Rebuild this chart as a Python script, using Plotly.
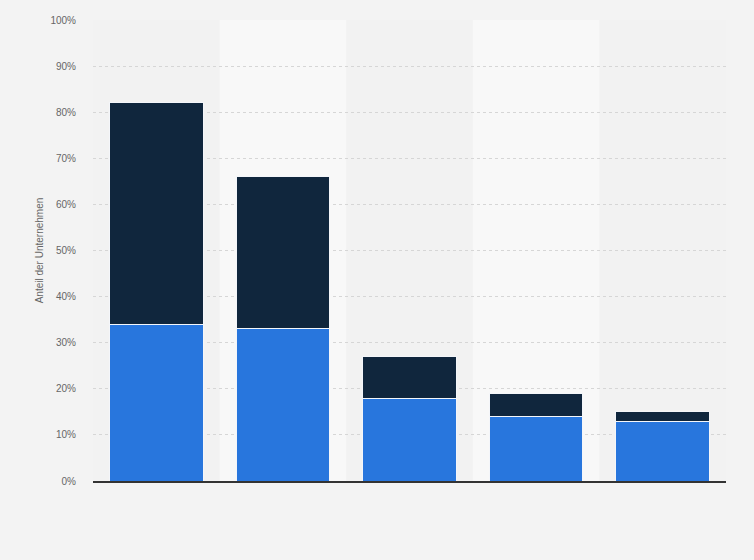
import plotly.graph_objects as go

categories = ["Kategorie 1", "Kategorie 2", "Kategorie 3", "Kategorie 4", "Kategorie 5"]
series_a = [34, 33, 18, 14, 13]
series_b = [48, 33, 9, 5, 2]
tick_vals = [0, 10, 20, 30, 40, 50, 60, 70, 80, 90, 100]
tick_text = [f"{v}%" for v in tick_vals]

fig = go.Figure()
fig.add_trace(go.Bar(x=categories, y=series_a, marker=dict(color="#2876dd", line=dict(color="#f4f6fa", width=1)), name="A"))
fig.add_trace(go.Bar(x=categories, y=series_b, marker=dict(color="#10263d", line=dict(color="#f4f6fa", width=1)), name="B"))

shapes = []
for i, c in enumerate(categories):
    if i % 2 == 1:
        shapes.append(dict(type="rect", xref="x", yref="paper", x0=i - 0.5, x1=i + 0.5, y0=0, y1=1,
                           fillcolor="#f8f8f8", line=dict(width=0), layer="below"))

fig.update_layout(
    barmode="stack",
    bargap=0.26,
    width=754, height=560,
    margin=dict(l=93, r=28, t=20, b=79),
    paper_bgcolor="#f3f3f3",
    plot_bgcolor="#f2f2f2",
    showlegend=False,
    shapes=shapes,
    font=dict(family="Arial, Liberation Sans, sans-serif", size=10, color="#666666"),
)
fig.update_xaxes(showticklabels=False, showgrid=False, zeroline=False, showline=True,
                 linecolor="#333333", linewidth=1.5, ticks="")
fig.update_yaxes(range=[0, 100], tickvals=tick_vals, ticktext=tick_text, showgrid=True,
                 gridcolor="#d6d6d6", griddash="dot", gridwidth=1, zeroline=False,
                 title=dict(text="Anteil der Unternehmen", font=dict(size=10, color="#666666"), standoff=4),
                 tickfont=dict(size=10, color="#666666"), ticks="", ticklabelstandoff=16)

fig.write_html("out.html", config={"displayModeBar": False},
               post_script="document.body.style.margin='0';document.body.style.background='#f3f3f3';")
